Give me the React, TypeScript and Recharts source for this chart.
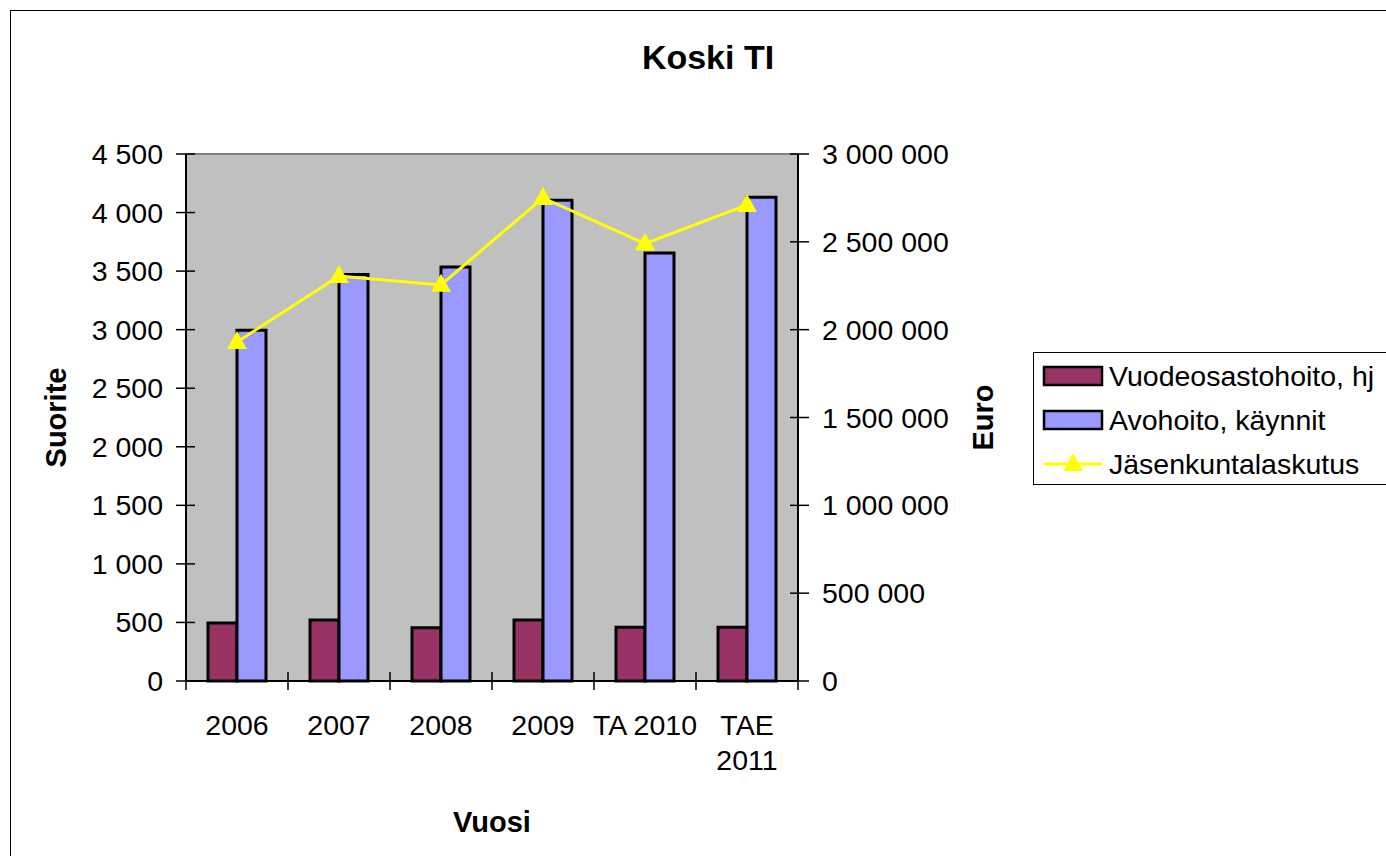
import React from "react";
import { ComposedChart, Bar, Line, XAxis, YAxis, CartesianGrid, ReferenceLine } from "recharts";

const FONT = "'Liberation Sans', Arial, sans-serif";

// ─── Data ─────────────────────────────────────────────────────────────────────
const years = ["2006", "2007", "2008", "2009", "TA 2010", "TAE 2011"];
const inpatientDays = [495, 520, 455, 520, 460, 460];
const outpatientVisits = [2995, 3470, 3535, 4105, 3655, 4130];
const memberBilling = [1930000, 2305000, 2255000, 2750000, 2490000, 2710000];
const leftTicks = [0, 500, 1000, 1500, 2000, 2500, 3000, 3500, 4000, 4500];
const rightTicks = [0, 500000, 1000000, 1500000, 2000000, 2500000, 3000000];

const series = [
  { key: "inpatient", name: "Vuodeosastohoito, hj", color: "#993366", kind: "bar" },
  { key: "outpatient", name: "Avohoito, käynnit", color: "#9999FF", kind: "bar" },
  { key: "billing", name: "Jäsenkuntalaskutus", color: "#FFFF00", kind: "line" },
];

const data = years.map((y, i) => ({
  year: y,
  inpatient: inpatientDays[i],
  outpatient: outpatientVisits[i],
  billing: memberBilling[i],
}));

// ─── Layout ───────────────────────────────────────────────────────────────────
const W = 1386;
const H = 856;
const PLOT_LEFT = 186;
const PLOT_RIGHT = 798;
const PLOT_TOP = 154;
const PLOT_BOTTOM = 681;
const BAND = (PLOT_RIGHT - PLOT_LEFT) / years.length;
const TICK_FONT = 28.5;

const fmtSpaced = (v: number) => String(v).replace(/\B(?=(\d{3})+(?!\d))/g, " ");

// eslint-disable-next-line @typescript-eslint/no-explicit-any
function LeftTick(props: any) {
  const { x, y, payload } = props;
  return (
    <g>
      <line x1={x - 10} x2={x + 9} y1={y} y2={y} stroke="#000" strokeWidth={1.5} />
      <text x={x - 23} y={y} dy={10} textAnchor="end" fontSize={TICK_FONT} fontFamily={FONT} fill="#000">
        {fmtSpaced(payload.value)}
      </text>
    </g>
  );
}

// eslint-disable-next-line @typescript-eslint/no-explicit-any
function RightTick(props: any) {
  const { x, y, payload } = props;
  return (
    <g>
      <line x1={x - 8} x2={x + 11} y1={y} y2={y} stroke="#000" strokeWidth={1.5} />
      <text x={x + 24} y={y} dy={10} textAnchor="start" fontSize={TICK_FONT} fontFamily={FONT} fill="#000">
        {fmtSpaced(payload.value)}
      </text>
    </g>
  );
}

// eslint-disable-next-line @typescript-eslint/no-explicit-any
function BottomTick(props: any) {
  const { x, y, payload, index } = props;
  const label: string = payload.value;
  const lines = label.length > 7 ? label.split(" ") : [label];
  const left = x - BAND / 2;
  return (
    <g>
      <line x1={left} x2={left} y1={y - 9} y2={y + 9} stroke="#000" strokeWidth={1.5} />
      {index === years.length - 1 && (
        <line x1={left + BAND} x2={left + BAND} y1={y - 9} y2={y + 9} stroke="#000" strokeWidth={1.5} />
      )}
      <text textAnchor="middle" fontSize={TICK_FONT} fontFamily={FONT} fill="#000">
        {lines.map((l, i) => (
          <tspan key={i} x={x} y={y + 54 + i * 35}>{l}</tspan>
        ))}
      </text>
    </g>
  );
}

// eslint-disable-next-line @typescript-eslint/no-explicit-any
function Triangle(props: any) {
  const { cx, cy } = props;
  if (cx == null || cy == null) return null;
  return <polygon points={`${cx},${cy - 11} ${cx - 10},${cy + 7} ${cx + 10},${cy + 7}`} fill="#FFFF00" />;
}

// eslint-disable-next-line @typescript-eslint/no-explicit-any
const axisTitle = (text: string, dx: number, rotate: boolean) => (props: any) => {
  const vb = props.viewBox;
  const cx = vb.x + dx;
  const cy = rotate ? vb.y + vb.height / 2 : vb.y + 141;
  return (
    <text
      x={cx}
      y={cy}
      textAnchor="middle"
      dominantBaseline="central"
      fontSize={29}
      fontWeight="bold"
      fontFamily={FONT}
      fill="#000"
      transform={rotate ? `rotate(-90 ${cx} ${cy})` : undefined}
    >
      {text}
    </text>
  );
};

function LegendBox() {
  return (
    <div
      style={{
        position: "absolute",
        left: 1033,
        top: 352,
        width: 400,
        height: 131,
        border: "1.5px solid #000",
        background: "#fff",
        fontFamily: FONT,
        fontSize: TICK_FONT,
      }}
    >
      {series.map((s, i) => (
        <div key={s.key} style={{ position: "absolute", left: 0, top: 8 + i * 44, height: 30, display: "flex", alignItems: "center", whiteSpace: "nowrap" }}>
          <svg width={75} height={30} style={{ display: "block" }}>
            {s.kind === "bar" ? (
              <rect x={10} y={6} width={58} height={18} fill={s.color} stroke="#000" strokeWidth={2.5} />
            ) : (
              <g>
                <line x1={10} x2={68} y1={15} y2={15} stroke={s.color} strokeWidth={3} />
                <polygon points="39,4 29,22 49,22" fill={s.color} />
              </g>
            )}
          </svg>
          <span style={{ color: "#000" }}>{s.name}</span>
        </div>
      ))}
    </div>
  );
}

export default function App() {
  return (
    <div style={{ position: "fixed", left: 0, top: 0, width: W, height: H, overflow: "hidden", background: "#fff" }}>
      <div style={{ position: "absolute", left: 10, top: 10, width: W + 20, height: H + 20, borderLeft: "1.5px solid #000", borderTop: "1.5px solid #000" }} />
      <div
        style={{
          position: "absolute",
          left: 508,
          width: 400,
          top: 38,
          textAlign: "center",
          fontFamily: FONT,
          fontSize: 34,
          fontWeight: "bold",
          color: "#000",
        }}
      >
        Koski TI
      </div>
      <div style={{ position: "absolute", left: 0, top: 0 }}>
        <ComposedChart
          width={W}
          height={H}
          data={data}
          margin={{ top: PLOT_TOP, right: W - PLOT_RIGHT - 200, bottom: 0, left: 0 }}
          barGap={0}
        >
          <CartesianGrid fill="#C0C0C0" stroke="none" horizontal={false} vertical={false} yAxisId="left" />
          <XAxis
            dataKey="year"
            height={H - PLOT_BOTTOM}
            tickSize={0}
            tickMargin={0}
            tick={<BottomTick />}
            interval={0}
            axisLine={{ stroke: "#000", strokeWidth: 2 }}
            label={axisTitle("Vuosi", 306, false)}
          />
          <YAxis
            yAxisId="left"
            orientation="left"
            width={PLOT_LEFT}
            domain={[0, 4500]}
            ticks={leftTicks}
            interval={0}
            tickSize={0}
            tickMargin={0}
            tick={<LeftTick />}
            axisLine={{ stroke: "#000", strokeWidth: 2 }}
            label={axisTitle("Suorite", 56, true)}
          />
          <YAxis
            yAxisId="right"
            orientation="right"
            width={200}
            domain={[0, 3000000]}
            ticks={rightTicks}
            interval={0}
            tickSize={0}
            tickMargin={0}
            tick={<RightTick />}
            axisLine={{ stroke: "#000", strokeWidth: 2 }}
            label={axisTitle("Euro", 185, true)}
          />
          <ReferenceLine yAxisId="left" y={4500} stroke="#808080" strokeWidth={2} />
          <Bar yAxisId="left" dataKey="inpatient" name={series[0].name} fill={series[0].color} stroke="#000" strokeWidth={3} barSize={29} isAnimationActive={false} />
          <Bar yAxisId="left" dataKey="outpatient" name={series[1].name} fill={series[1].color} stroke="#000" strokeWidth={3} barSize={29} isAnimationActive={false} />
          <Line
            yAxisId="right"
            type="linear"
            dataKey="billing"
            name={series[2].name}
            stroke={series[2].color}
            strokeWidth={3}
            dot={<Triangle />}
            activeDot={false}
            isAnimationActive={false}
          />
        </ComposedChart>
      </div>
      <LegendBox />
    </div>
  );
}
